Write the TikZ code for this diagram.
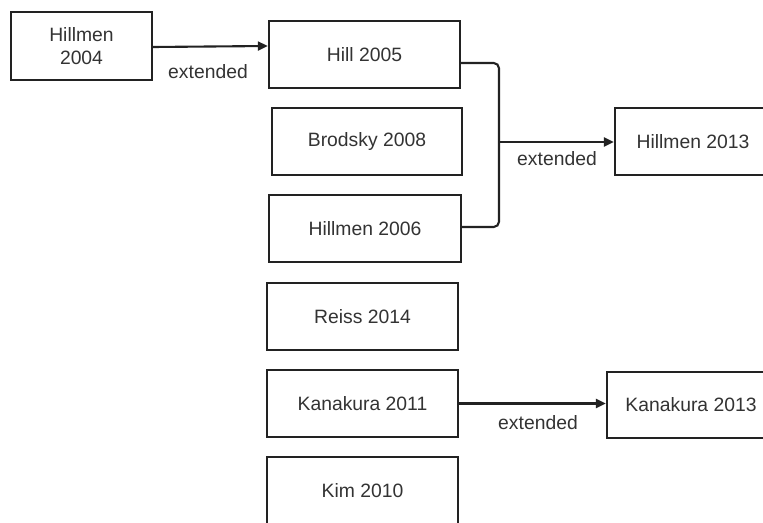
\documentclass[tikz,border=0pt]{standalone}
\usepackage{fontspec}
\setmainfont{Liberation Sans}
\usetikzlibrary{arrows.meta,positioning,calc}
\definecolor{Ink}{HTML}{222222}
\definecolor{TextGray}{HTML}{333333}
\tikzset{
  study/.style={draw=Ink,line width=1.3pt,minimum height=1.34cm,align=center,text=TextGray,fill=white,inner sep=2pt},
  note/.style={text=TextGray,inner sep=1pt},
  arrow/.style={-{Triangle[length=2mm,width=1.8mm]},line width=1.2pt,draw=Ink},
  link/.style={line width=1.2pt,draw=Ink,rounded corners=3pt}
}
\begin{document}
\begin{tikzpicture}[x=0.02cm,y=-0.02cm,font=\fontsize{11}{13}\selectfont]
  \clip (0,0) rectangle (763,523);
  \fill[white] (0,0) rectangle (763,523);
  \node[study,minimum width=2.82cm,minimum height=1.36cm] (hm04) at (81.5,46) {Hillmen\\2004};
  \node[study,minimum width=3.82cm] (hill05) at (364.5,54.5) {Hill 2005};
  \node[study,minimum width=3.80cm] (brod08) at (367,141.5) {Brodsky 2008};
  \node[study,minimum width=3.84cm] (hm06) at (365,228.5) {Hillmen 2006};
  \node[study,minimum width=3.12cm] (hm13) at (693,141.5) {Hillmen 2013};
  \node[study,minimum width=3.82cm] (reiss14) at (362.5,316.5) {Reiss 2014};
  \node[study,minimum width=3.82cm] (kan11) at (362.5,403.5) {Kanakura 2011};
  \node[study,minimum width=3.36cm,minimum height=1.32cm] (kan13) at (691,405) {Kanakura 2013};
  \node[study,minimum width=3.82cm] (kim10) at (362.5,490.5) {Kim 2010};
  \coordinate (join) at (499,142);
  \draw[arrow] ([yshift=-0.02cm]hm04.east) -- (hm04.east -| hill05.west);
  \draw[link] ([yshift=-0.17cm]hill05.east) -| (join) |- ([yshift=0.03cm]hm06.east);
  \draw[arrow] (join) -- (join -| hm13.west);
  \draw[arrow] (kan11.east) -- (kan11.east -| kan13.west);
  \node[note] (ext1) at (208,72) {extended};
  \node[note] (ext2) at (557,159) {extended};
  \node[note] (ext3) at (538,423) {extended};
\end{tikzpicture}
\end{document}
